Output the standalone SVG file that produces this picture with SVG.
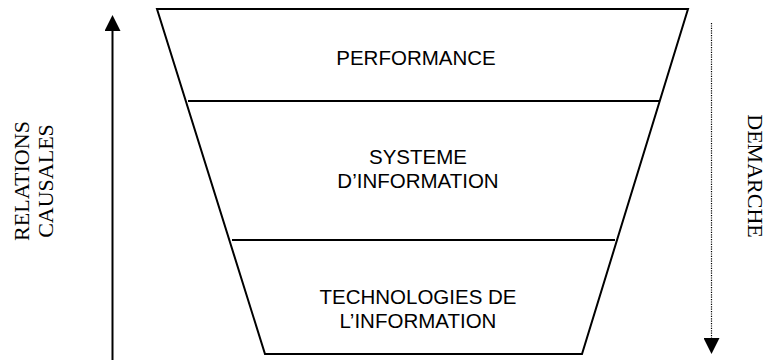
<svg xmlns="http://www.w3.org/2000/svg" width="769" height="360" viewBox="0 0 769 360">
<style>
.edge{fill:none;stroke:#000;stroke-width:2}
.div{stroke:#000;stroke-width:2}
.lbl{font-family:"Liberation Sans",Arial,sans-serif;font-size:20.5px;fill:#000;text-anchor:middle}
.side{font-family:"Liberation Serif","Times New Roman",serif;font-size:22px;fill:#000;text-anchor:middle}
</style>
<defs>
<marker id="ah" viewBox="0 0 16 16" refX="0" refY="8" markerWidth="16" markerHeight="16" markerUnits="userSpaceOnUse" orient="auto">
<path d="M0,0 L16,8 L0,16 Z" fill="#000"/>
</marker>
</defs>
<rect width="769" height="360" fill="#fff"/>
<g id="funnel">
<polygon class="edge" points="157,9 688,9 582,354 265,354"/>
</g>
<g id="performance">
<text class="lbl" x="416" y="65">PERFORMANCE</text>
</g>
<g id="systeme">
<line class="div" x1="188" y1="101" x2="659" y2="101"/>
<text class="lbl" x="418" y="164">SYSTEME</text>
<text class="lbl" x="418" y="188">D’INFORMATION</text>
</g>
<g id="technologies">
<line class="div" x1="232" y1="240" x2="615" y2="240"/>
<text class="lbl" x="418" y="304">TECHNOLOGIES DE</text>
<text class="lbl" x="418" y="328">L’INFORMATION</text>
</g>
<g id="connectors">
<line x1="112.5" y1="360" x2="112.5" y2="31" stroke="#000" stroke-width="2" marker-end="url(#ah)"/>
<line x1="711.5" y1="23" x2="711.5" y2="338" stroke="#000" stroke-width="1.2" stroke-dasharray="1.2,1.2" marker-end="url(#ah)"/>
</g>
<g id="relations">
<text class="side" transform="translate(29,181) rotate(-90)"><tspan x="0" y="0">RELATIONS</tspan><tspan x="0" y="24">CAUSALES</tspan></text>
</g>
<g id="demarche">
<text class="side" transform="translate(748,176) rotate(90)">DEMARCHE</text>
</g>
</svg>
